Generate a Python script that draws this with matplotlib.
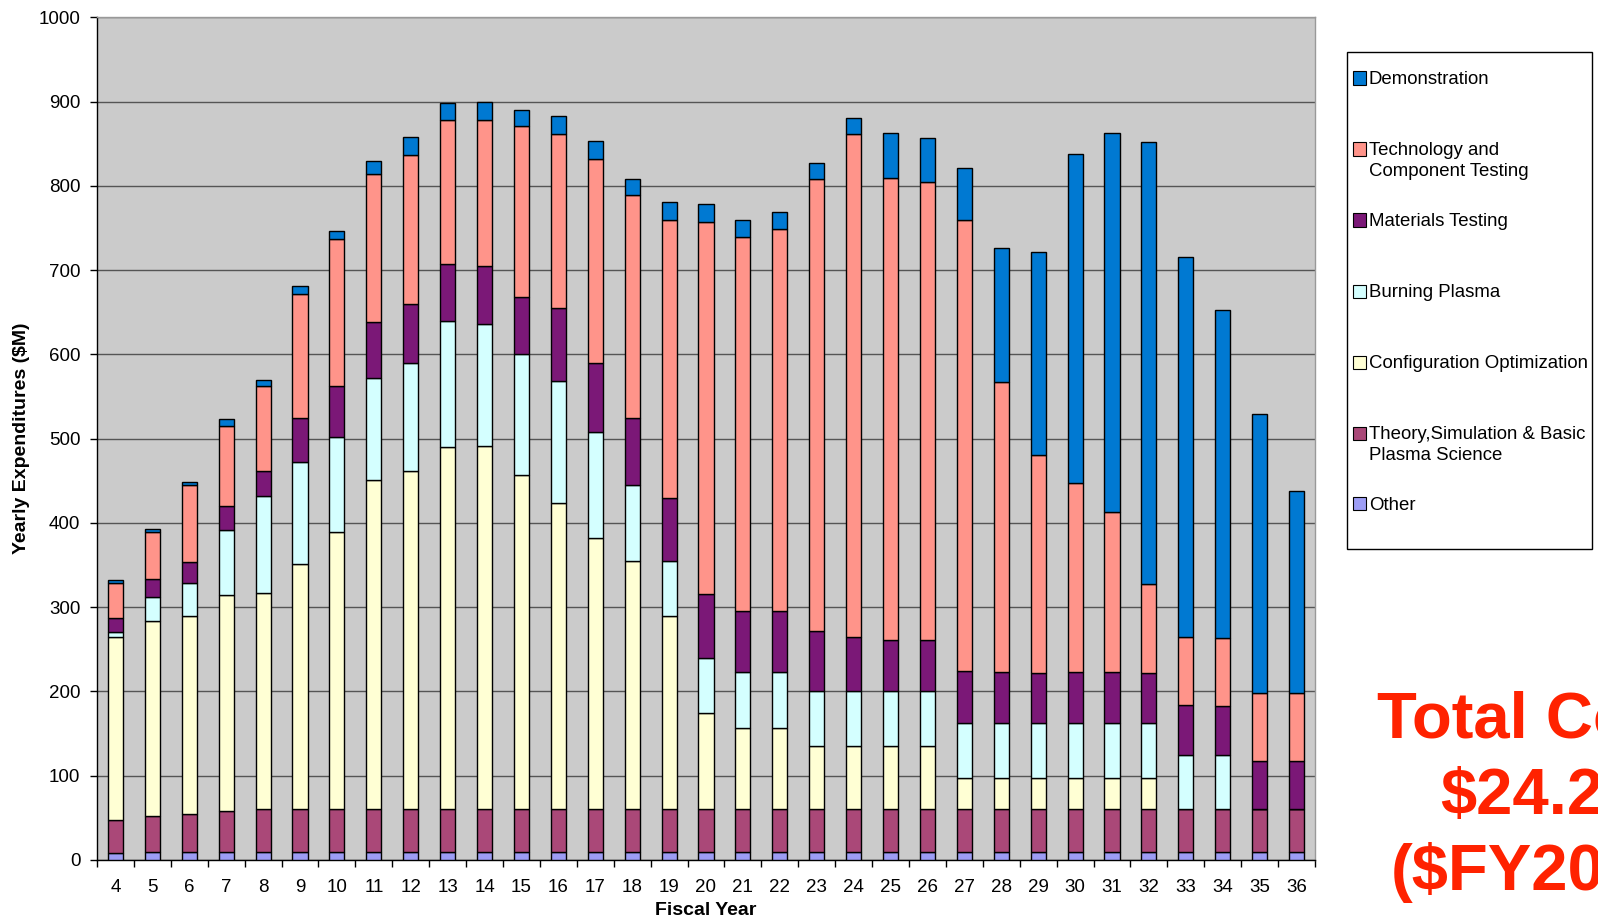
import matplotlib
matplotlib.use("Agg")
import matplotlib.pyplot as plt
from matplotlib.patches import Rectangle
import numpy as np

plt.rcParams["font.family"] = ["Liberation Sans", "DejaVu Sans"]

# Fiscal years on the x axis
years = list(range(4, 37))

# Segment heights ($M), bottom to top
other = [8, 9, 9] + [10] * 30
theory = [40, 43, 45, 48] + [50] * 29
config = [217, 232, 235, 257, 257, 291, 329, 391, 402, 430, 431, 397, 364, 322,
          295, 230, 115, 97, 97, 75, 75, 75, 75, 37, 37, 37, 37, 37, 37, 0, 0, 0, 0]
burning = [5, 28, 40, 77, 115, 121, 113, 121, 128, 150, 145, 143, 145, 126,
           90, 65, 65, 66, 66, 65, 65, 65, 65, 65, 65, 65, 65, 65, 65, 65, 65, 0, 0]
materials = [17, 21, 25, 28, 30, 52, 61, 67, 70, 67, 69, 68, 86, 82,
             79, 75, 76, 73, 73, 72, 65, 61, 61, 62, 61, 60, 61, 61, 60, 59, 58, 57, 57]
technology = [42, 56, 91, 95, 100, 148, 174, 175, 177, 171, 173, 203, 207, 242,
              265, 329, 441, 443, 453, 536, 596, 548, 543, 536, 344, 259, 224, 190, 105, 81, 80, 81, 81]
demonstration = [3, 4, 4, 8, 8, 9, 10, 16, 21, 20, 21, 19, 21, 21,
                 19, 22, 21, 20, 20, 19, 20, 54, 53, 61, 159, 241, 391, 450, 525, 451, 390, 331, 240]

series = [
    ("Other", other, "#9d9df5"),
    ("Theory,Simulation & Basic\nPlasma Science", theory, "#aa4878"),
    ("Configuration Optimization", config, "#ffffd4"),
    ("Burning Plasma", burning, "#d4ffff"),
    ("Materials Testing", materials, "#7b1877"),
    ("Technology and\nComponent Testing", technology, "#ff948a"),
    ("Demonstration", demonstration, "#0079d2"),
]

# the reference cuts this text off at the right edge as well
total_lines = ["Total Cost:", "$24.2B", "($FY2002)"]

fig = plt.figure(figsize=(15.98, 9.18), dpi=100)
ax = fig.add_axes([97 / 1598, 1 - 860 / 918, (1315 - 97) / 1598, (860 - 17.3) / 918])
ax.set_facecolor("#cbcbcb")

bottom = np.zeros(len(years))
for name, vals, color in series:
    ax.bar(years, vals, width=0.41, bottom=bottom, color=color,
           edgecolor="black", linewidth=1.0, zorder=3)
    bottom += np.array(vals)

ax.set_xlim(3.5, 36.5)
ax.set_ylim(0, 1000)
ax.set_yticks(range(0, 1001, 100))
ax.yaxis.grid(True, color="#555555", linewidth=1.0, zorder=0)
ax.set_axisbelow(True)

ax.set_xticks(years)
ax.set_xticks(np.arange(3.5, 37, 1), minor=True)
ax.tick_params(axis="x", which="major", length=0, pad=14, labelsize=13.5)
ax.tick_params(axis="x", which="minor", length=5, width=1, direction="out")
ax.tick_params(axis="y", length=5, width=1, direction="out", pad=7, labelsize=13.5)

for s in ["left", "bottom"]:
    ax.spines[s].set_color("black")
    ax.spines[s].set_linewidth(1.0)
for s in ["top", "right"]:
    ax.spines[s].set_color("#999999")
    ax.spines[s].set_linewidth(1.0)

ax.set_xlabel("Fiscal Year", fontsize=14, fontweight="bold", labelpad=4)
ax.set_ylabel("Yearly Expenditures ($M)", fontsize=14, fontweight="bold", labelpad=6)

# Legend box drawn by hand so entries sit on an even pitch
W, H = 1598, 918
fig.add_artist(Rectangle((1347 / W, 1 - 549 / H), (1592 - 1347) / W, (549 - 52) / H,
                         transform=fig.transFigure, facecolor="white",
                         edgecolor="black", linewidth=1.0))
for i, (name, vals, color) in enumerate(reversed(series)):
    yc = 78 + 71 * i
    fig.add_artist(Rectangle((1353 / W, 1 - (yc + 6.5) / H), 13 / W, 13 / H,
                             transform=fig.transFigure, facecolor=color,
                             edgecolor="black", linewidth=0.8))
    fig.text(1369 / W, 1 - (yc - 7) / H, name, fontsize=13.4, va="top", ha="left",
             linespacing=1.3)

for i, line in enumerate(total_lines):
    fig.text(1545 / W, 1 - (738 + 76 * i) / H, line, fontsize=47, fontweight="bold",
             color="#ff2200", ha="center", va="baseline")

fig.savefig("out.png", dpi=100)
